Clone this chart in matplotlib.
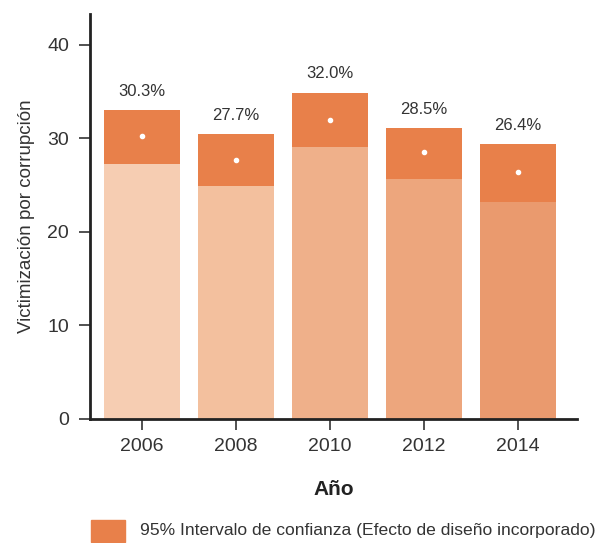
import matplotlib.pyplot as plt
from matplotlib.patches import Rectangle

years = ['2006', '2008', '2010', '2012', '2014']
means = [30.3, 27.7, 32.0, 28.5, 26.4]
lower = [27.3, 24.9, 29.1, 25.7, 23.2]
upper = [33.0, 30.5, 34.9, 31.1, 29.4]
base_colors = ['#F6CDB2', '#F3C09E', '#EFB08A', '#EDA67D', '#EA9A6E']
ci_color = '#E8804A'
txt = '#333333'

plt.rcParams['font.family'] = ['Liberation Sans Narrow', 'Liberation Sans', 'DejaVu Sans']

fig = plt.figure(figsize=(5.97, 5.43), dpi=100)
ax = fig.add_axes([0.1508, 0.2284, 0.8157, 0.7456])

x = list(range(len(years)))
w = 0.81
ax.bar(x, lower, width=w, color=base_colors, zorder=2)
ax.bar(x, [u - l for u, l in zip(upper, lower)], bottom=lower, width=w,
       color=ci_color, zorder=2)
ax.scatter(x, means, s=9, color='white', zorder=3)
for xi, u, m in zip(x, upper, means):
    ax.text(xi, u + 1.2, f'{m:.1f}%', ha='center', va='bottom',
            fontsize=12, color=txt)

ax.set_xlim(-0.55, 4.63)
ax.set_ylim(0, 43.3)
ax.set_yticks([0, 10, 20, 30, 40])
ax.set_xticks(x)
ax.set_xticklabels(years)
ax.tick_params(axis='both', labelsize=14, labelcolor=txt, color=txt,
               length=8, width=1.2)
ax.tick_params(axis='y', pad=7)
ax.tick_params(axis='x', pad=6)
for s in ['top', 'right']:
    ax.spines[s].set_visible(False)
for s in ['left', 'bottom']:
    ax.spines[s].set_linewidth(2)
    ax.spines[s].set_color('#222222')

ax.set_ylabel('Victimización por corrupción', fontsize=13.5, color=txt, labelpad=9)
ax.set_xlabel('Año', fontsize=15, fontweight='bold', color='#222222', labelpad=18)

# legend drawn as a patch + text in figure coordinates
fig.patches.append(Rectangle((91 / 597, 1 / 543), 34 / 597, 22 / 543,
                             transform=fig.transFigure, color=ci_color))
fig.text(140 / 597, 12 / 543,
         '95% Intervalo de confianza (Efecto de diseño incorporado)',
         ha='left', va='center', fontsize=12.6, color=txt)

fig.savefig('out.png', dpi=100)
